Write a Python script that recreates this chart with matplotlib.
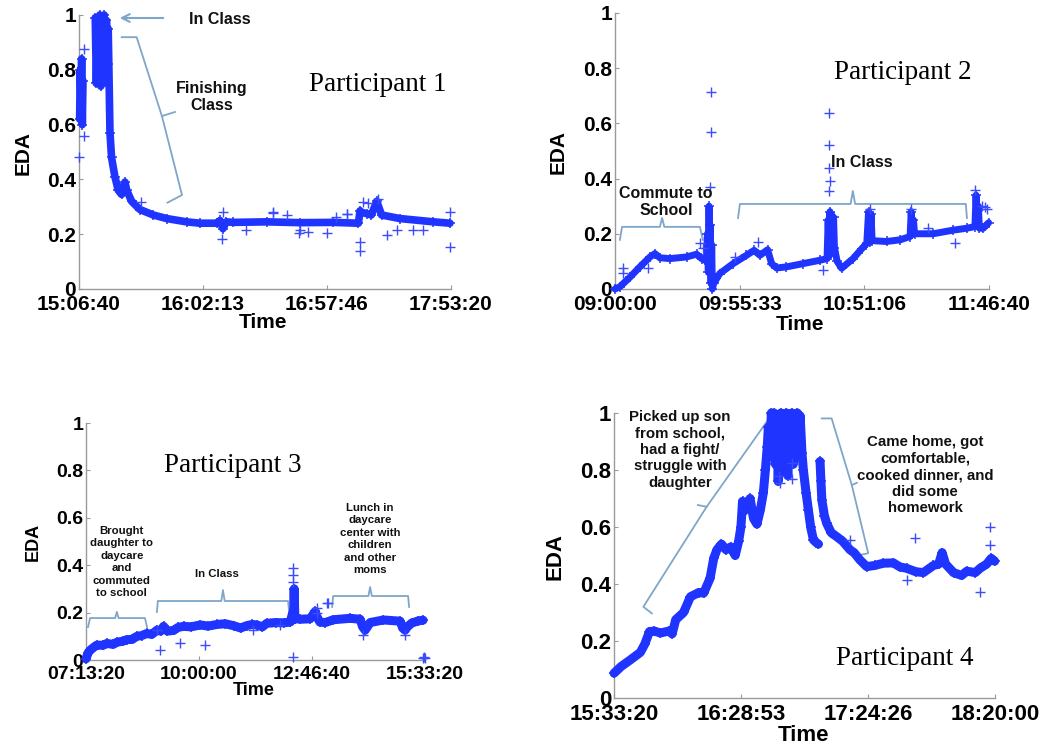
import numpy as np
import matplotlib
matplotlib.use("Agg")
import matplotlib.pyplot as plt

nan = float("nan")

# ---------------- data (time in minutes from axis start, EDA 0..1) ----------------
p1_time = [0.3, 0.6, 0.9, 1.2, 1.5, 1.8, nan,
           7.3, 7.8, 8.3, 8.8, 9.3, 9.8, 10.3, 10.8, 11.3, 11.8, 12.3, 12.8, 13.1, 13.9, 14.6,
           16.1, 17.6, 19.1, 20.0, 20.6, 21.4, 23.6, 27.3, 33.3, 39.3, 48.2, 54.2, 61.7, 63.2,
           64.5, 66.0, 69.1, 84.1, 99.0, 113.9, 125.2, 125.9, 126.5, 128.9, 131.0, 133.4,
           135.6, 143.8, 158.8, 166.2]
p1_eda = [0.62, 0.80, 0.68, 0.84, 0.60, 0.76, nan,
          0.99, 0.75, 0.97, 0.80, 1.0, 0.74, 0.95, 0.85, 1.0, 0.76, 0.98, 0.82, 0.95, 0.57, 0.48,
          0.41, 0.36, 0.345, 0.37, 0.39, 0.36, 0.32, 0.29, 0.27, 0.257, 0.245, 0.24, 0.24, 0.25,
          0.22, 0.245, 0.243, 0.245, 0.242, 0.243, 0.24, 0.285, 0.28, 0.275, 0.27, 0.32,
          0.27, 0.257, 0.245, 0.24]
p1_out_time = [0.0, 2.4, 2.4, 28, 64, 64.5, 75, 86.9, 87, 93.2, 98.6, 99, 102.6, 111.1,
               115.1, 120.1, 120, 125.9, 125.9, 127.2, 129.5, 134, 138, 142.5, 149.6, 154,
               166.2, 166.2]
p1_out_eda = [0.48, 0.875, 0.56, 0.318, 0.184, 0.28, 0.214, 0.277, 0.28, 0.27, 0.204, 0.214,
              0.208, 0.204, 0.263, 0.274, 0.275, 0.17, 0.14, 0.317, 0.314, 0.33, 0.197, 0.215,
              0.215, 0.215, 0.28, 0.153]

p2_time = [0, 2.2, 6.7, 11.1, 15.6, 17.8, 20.0, 24.5, 31.9, 36.4, 38.6, 40.1, 40.8,
           41.2, 41.6, 41.9, 42.2, 42.5, 42.8, 43.1, 43.4, 44.0, 46.7, 52.7, 58.6, 62.0, 64.6,
           68.0, 69.8, 72.0, 76.4, 83.9, 91.3, 94.5,
           95.0, 95.4, 95.8, 96.2, 96.6, 97.0, 97.4, 97.8, 99.0, 101.0, 106.1, 110.0, 112.2,
           113.0, 113.6, 114.1, 114.6, 121, 127, 131.5, 132.0, 132.5, 133, 133.5, 141.8, 150.6,
           156.7, 160.4, 160.9, 161.4, 161.9, 162.4, 164.1, 166.5]
p2_eda = [0.0, 0.008, 0.043, 0.08, 0.116, 0.128, 0.113, 0.11, 0.116, 0.126, 0.11, 0.104, 0.116,
          0.2, 0.06, 0.3, 0.1, 0.23, 0.02, 0.16, 0.0, 0.02, 0.056, 0.092, 0.122, 0.14, 0.122,
          0.142, 0.092, 0.076, 0.08, 0.092, 0.104, 0.11,
          0.25, 0.12, 0.28, 0.13, 0.24, 0.14, 0.26, 0.15, 0.1, 0.075, 0.11, 0.146, 0.165,
          0.28, 0.17, 0.27, 0.175, 0.172, 0.178, 0.19, 0.28, 0.2, 0.25, 0.2, 0.2, 0.213,
          0.22, 0.226, 0.34, 0.23, 0.3, 0.22, 0.22, 0.24]
p2_out_time = [42.7, 42.7, 42.2, 95.5, 95.5, 95.5, 96.0, 95.5, 3.7, 3.7, 14.8, 37.9, 39.0,
               53.5, 63.9, 92.8, 139.6, 151.5, 160.4, 163.5, 164.9, 166.0, 132.0, 113.6]
p2_out_eda = [0.715, 0.57, 0.37, 0.638, 0.52, 0.44, 0.39, 0.355, 0.075, 0.058, 0.075, 0.165,
              0.15, 0.117, 0.171, 0.069, 0.22, 0.165, 0.36, 0.3, 0.298, 0.29, 0.29, 0.29]

p3_time = [0, 3, 6.4, 12, 16.2, 25, 30.9, 40, 45.7, 55, 60.4, 68, 75.1, 82, 89.9, 97, 104.6,
           110, 114.4, 120, 129.2, 136, 143.9, 155, 168.5, 180, 193, 205, 217.6, 228, 237, 245,
           252, 260, 266.7, 280, 291.3, 301, 305, 306, 307, 308, 315.8, 330.6, 338, 340.4, 345,
           352.7, 364.9, 389.5, 404.2, 408, 411.6, 415, 419, 438.6, 463.2, 467, 470.6, 474,
           480.3, 490, 497]
p3_eda = [0.005, 0.03, 0.042, 0.055, 0.063, 0.062, 0.07, 0.066, 0.075, 0.08, 0.086, 0.087,
          0.1, 0.103, 0.112, 0.108, 0.126, 0.122, 0.142, 0.122, 0.125, 0.138, 0.142, 0.14,
          0.148, 0.143, 0.15, 0.153, 0.145, 0.135, 0.145, 0.15, 0.148, 0.14, 0.155, 0.158,
          0.157, 0.16, 0.2, 0.17, 0.3, 0.175, 0.172, 0.174, 0.205, 0.183, 0.16, 0.158, 0.17,
          0.176, 0.172, 0.14, 0.126, 0.14, 0.158, 0.169, 0.164, 0.135, 0.126, 0.14, 0.156,
          0.165, 0.168]
p3_out_time = [500, 499, 306, 306, 306, 306, 175.5, 357, 341, 104, 109, 286, 409, 470, 497.5,
               138.6, 246, 340, 355]
p3_out_eda = [0.007, 0.012, 0.39, 0.36, 0.33, 0.014, 0.063, 0.24, 0.22, 0.127, 0.042, 0.148,
              0.105, 0.105, 0.007, 0.07, 0.127, 0.197, 0.239]

p4_time = [0, 3, 7, 11.5, 13.5, 15.5, 17.5, 20.3, 24, 25.4, 27, 30.4, 33.4, 37, 39.2, 42, 43.6,
           45, 47, 49, 51, 53, 54.5, 55.5, 56.2, 57.5, 59.5, 61, 62.5, 64, 65.3, 66.2, 67, 67.5,
           68.2, 68.8, 69.5, 70, 70.6, 71.2, 71.8, 72.4, 73, 73.6, 74.2, 74.8, 75.4, 76, 76.6,
           77.2, 77.8, 78.4, 79, 79.6, 80.2, 80.8, 81.4, 82.2, 82.8, 84, 85, 86, 87.2, 88.5,
           89.4, nan,
           90.1, 90.5, 90.9, 92, 93, 95, 97.4, 100, 103.2, 105, 107.6, 110.5, 114, 117.8, 122.2,
           125, 128, 132, 135.3, 139.7, 142, 143.5, 145, 148.5, 152, 154.3, 158, 160.1, 163,
           165, 166.5]
p4_eda = [0.087, 0.11, 0.133, 0.16, 0.19, 0.233, 0.235, 0.228, 0.235, 0.225, 0.275, 0.3, 0.355,
          0.37, 0.368, 0.42, 0.49, 0.52, 0.54, 0.52, 0.53, 0.5, 0.55, 0.6, 0.69, 0.66, 0.7,
          0.63, 0.61, 0.66, 0.72, 0.8, 0.88, 0.95, 0.85, 1.0, 0.9, 1.0, 0.82, 0.97, 0.76, 0.92,
          1.0, 0.85, 0.95, 0.8, 1.0, 0.78, 0.98, 0.84, 1.0, 0.82, 0.99, 0.88, 1.0, 0.9, 0.99,
          0.86, 0.8, 0.72, 0.66, 0.6, 0.555, 0.545, 0.54, nan,
          0.83, 0.76, 0.695, 0.64, 0.613, 0.58, 0.566, 0.55, 0.52, 0.51, 0.484, 0.461, 0.465,
          0.473, 0.474, 0.46, 0.455, 0.443, 0.44, 0.465, 0.47, 0.51, 0.47, 0.44, 0.43, 0.445,
          0.44, 0.455, 0.47, 0.49, 0.48]
p4_out_time = [164.5, 164.5, 131.5, 160.1, 72.6, 77.7, 77.7, 72.0, 103, 128]
p4_out_eda = [0.601, 0.537, 0.56, 0.373, 0.753, 0.823, 0.77, 0.78, 0.554, 0.414]

p1_ticks = ["15:06:40", "16:02:13", "16:57:46", "17:53:20"]
p2_ticks = ["09:00:00", "09:55:33", "10:51:06", "11:46:40"]
p3_ticks = ["07:13:20", "10:00:00", "12:46:40", "15:33:20"]
p4_ticks = ["15:33:20", "16:28:53", "17:24:26", "18:20:00"]
p1_span, p2_span, p3_span, p4_span = 166.667, 166.667, 500.0, 166.667
y_ticks = [0, 0.2, 0.4, 0.6, 0.8, 1.0]
y_tick_labels = ["0", "0.2", "0.4", "0.6", "0.8", "1"]

# ---------------- styling ----------------
BLUE = "#1f34ff"
BLUE2 = "#3a4cff"
BRACE = "#7fa6c9"
SPINE = "#9a9a9a"
SANS = ["Liberation Sans", "DejaVu Sans"]
SERIF = ["Liberation Serif", "DejaVu Serif"]

fig = plt.figure(figsize=(10.5, 7.49), dpi=100)


def panel(rect, t, v, ot, ov, span, xlabels, fs, lfs, lw, title, title_pos, xl_pos, yl_pos):
    ax = fig.add_axes(rect)
    ax.plot(t, v, "-", color=BLUE, lw=lw, solid_joinstyle="round", solid_capstyle="round",
            marker="+", ms=7, mew=1.1, clip_on=False, zorder=3)
    ax.plot(ot, ov, "+", color=BLUE2, ms=7, mew=1.0, ls="none", clip_on=False, zorder=3)
    ax.set_xlim(0, span)
    ax.set_ylim(0, 1)
    ax.set_xticks(np.linspace(0, span, len(xlabels)))
    ax.set_xticklabels(xlabels, family=SANS, fontweight="bold", fontsize=fs)
    ax.set_yticks(y_ticks)
    ax.set_yticklabels(y_tick_labels, family=SANS, fontweight="bold", fontsize=fs)
    for s in ("top", "right"):
        ax.spines[s].set_visible(False)
    for s in ("left", "bottom"):
        ax.spines[s].set_color(SPINE)
        ax.spines[s].set_linewidth(1.0)
    ax.tick_params(direction="in", length=3, width=0.8, color=SPINE, pad=2)
    ax.tick_params(axis="x", pad=4)
    ax.set_xlabel("Time", family=SANS, fontweight="bold", fontsize=lfs, va="center")
    ax.set_ylabel("EDA", family=SANS, fontweight="bold", fontsize=lfs, va="center")
    ax.xaxis.set_label_coords(*xl_pos)
    ax.yaxis.set_label_coords(*yl_pos)
    ax.text(title_pos[0], title_pos[1], title, transform=ax.transAxes, family=SERIF,
            fontsize=19.5, ha="center", va="center")
    return ax


def brace(ax, xs, ys):
    ax.plot(xs, ys, color=BRACE, lw=1.3, transform=ax.transAxes, clip_on=False,
            solid_joinstyle="round", zorder=2)


def note(ax, x, y, s, fs, ls=1.2):
    ax.text(x, y, s, transform=ax.transAxes, family=SANS, fontweight="bold", fontsize=fs,
            ha="center", va="center", linespacing=ls, color="#111111")


# Participant 1
ax1 = panel([0.0752, 0.6142, 0.3543, 0.3658], p1_time, p1_eda, p1_out_time, p1_out_eda,
            p1_span, p1_ticks, 15, 15, 5.5, "Participant 1", (0.804, 0.745),
            (0.495, -0.124), (-0.150, 0.496))
note(ax1, 0.379, 0.982, "In Class", 11.5)
ax1.annotate("", xy=(0.102, 0.989), xytext=(0.234, 0.989), xycoords="axes fraction",
             arrowprops=dict(arrowstyle="->", color=BRACE, lw=1.5, mutation_scale=14))
brace(ax1, [0.115, 0.155, 0.223, 0.277, 0.238], [0.919, 0.919, 0.631, 0.343, 0.315])
brace(ax1, [0.223, 0.258], [0.631, 0.646])
note(ax1, 0.358, 0.701, "Finishing\nClass", 11.5)

# Participant 2
ax2 = panel([0.5857, 0.6142, 0.3562, 0.3685], p2_time, p2_eda, p2_out_time, p2_out_eda,
            p2_span, p2_ticks, 15, 15, 5, "Participant 2", (0.770, 0.786),
            (0.495, -0.130), (-0.152, 0.496))
brace(ax2, [0.013, 0.019, 0.120, 0.126, 0.132, 0.227, 0.235],
      [0.178, 0.225, 0.225, 0.257, 0.225, 0.225, 0.178])
note(ax2, 0.136, 0.315, "Commute to\nSchool", 11.5)
brace(ax2, [0.329, 0.334, 0.630, 0.636, 0.642, 0.938, 0.941],
      [0.257, 0.308, 0.308, 0.355, 0.308, 0.308, 0.257])
note(ax2, 0.660, 0.457, "In Class", 11.5)

# Participant 3
ax3 = panel([0.0819, 0.1188, 0.3229, 0.3164], p3_time, p3_eda, p3_out_time, p3_out_eda,
            p3_span, p3_ticks, 14, 13, 6.5, "Participant 3", (0.434, 0.819),
            (0.496, -0.127), (-0.156, 0.498))
brace(ax3, [0.006, 0.012, 0.086, 0.091, 0.096, 0.174, 0.180],
      [0.139, 0.177, 0.177, 0.203, 0.177, 0.177, 0.139])
note(ax3, 0.106, 0.414, "Brought\ndaughter to\ndaycare\nand\ncommuted\nto school", 8.2, 1.3)
brace(ax3, [0.209, 0.212, 0.399, 0.404, 0.409, 0.596, 0.599],
      [0.203, 0.249, 0.249, 0.295, 0.249, 0.249, 0.203])
note(ax3, 0.386, 0.363, "In Class", 8.2)
brace(ax3, [0.726, 0.729, 0.833, 0.838, 0.843, 0.950, 0.953],
      [0.224, 0.270, 0.270, 0.308, 0.270, 0.270, 0.224])
note(ax3, 0.838, 0.511, "Lunch in\ndaycare\ncenter with\nchildren\nand other\nmoms", 8.2, 1.3)

# Participant 4
ax4 = panel([0.5848, 0.0681, 0.3629, 0.3805], p4_time, p4_eda, p4_out_time, p4_out_eda,
            p4_span, p4_ticks, 16, 16, 6.5, "Participant 4", (0.764, 0.140),
            (0.496, -0.130), (-0.155, 0.495))
brace(ax4, [0.099, 0.077, 0.243, 0.417, 0.444], [0.297, 0.320, 0.671, 1.0, 0.982])
brace(ax4, [0.243, 0.220], [0.671, 0.677])
note(ax4, 0.173, 0.870, "Picked up son\nfrom school,\nhad a fight/\nstruggle with\ndaughter", 10.8, 1.22)
brace(ax4, [0.545, 0.571, 0.624, 0.667, 0.646], [0.981, 0.981, 0.747, 0.508, 0.502])
brace(ax4, [0.624, 0.637], [0.747, 0.755])
note(ax4, 0.816, 0.782, "Came home, got\ncomfortable,\ncooked dinner, and\ndid some\nhomework", 10.8, 1.22)

fig.savefig("out.png", dpi=100)
